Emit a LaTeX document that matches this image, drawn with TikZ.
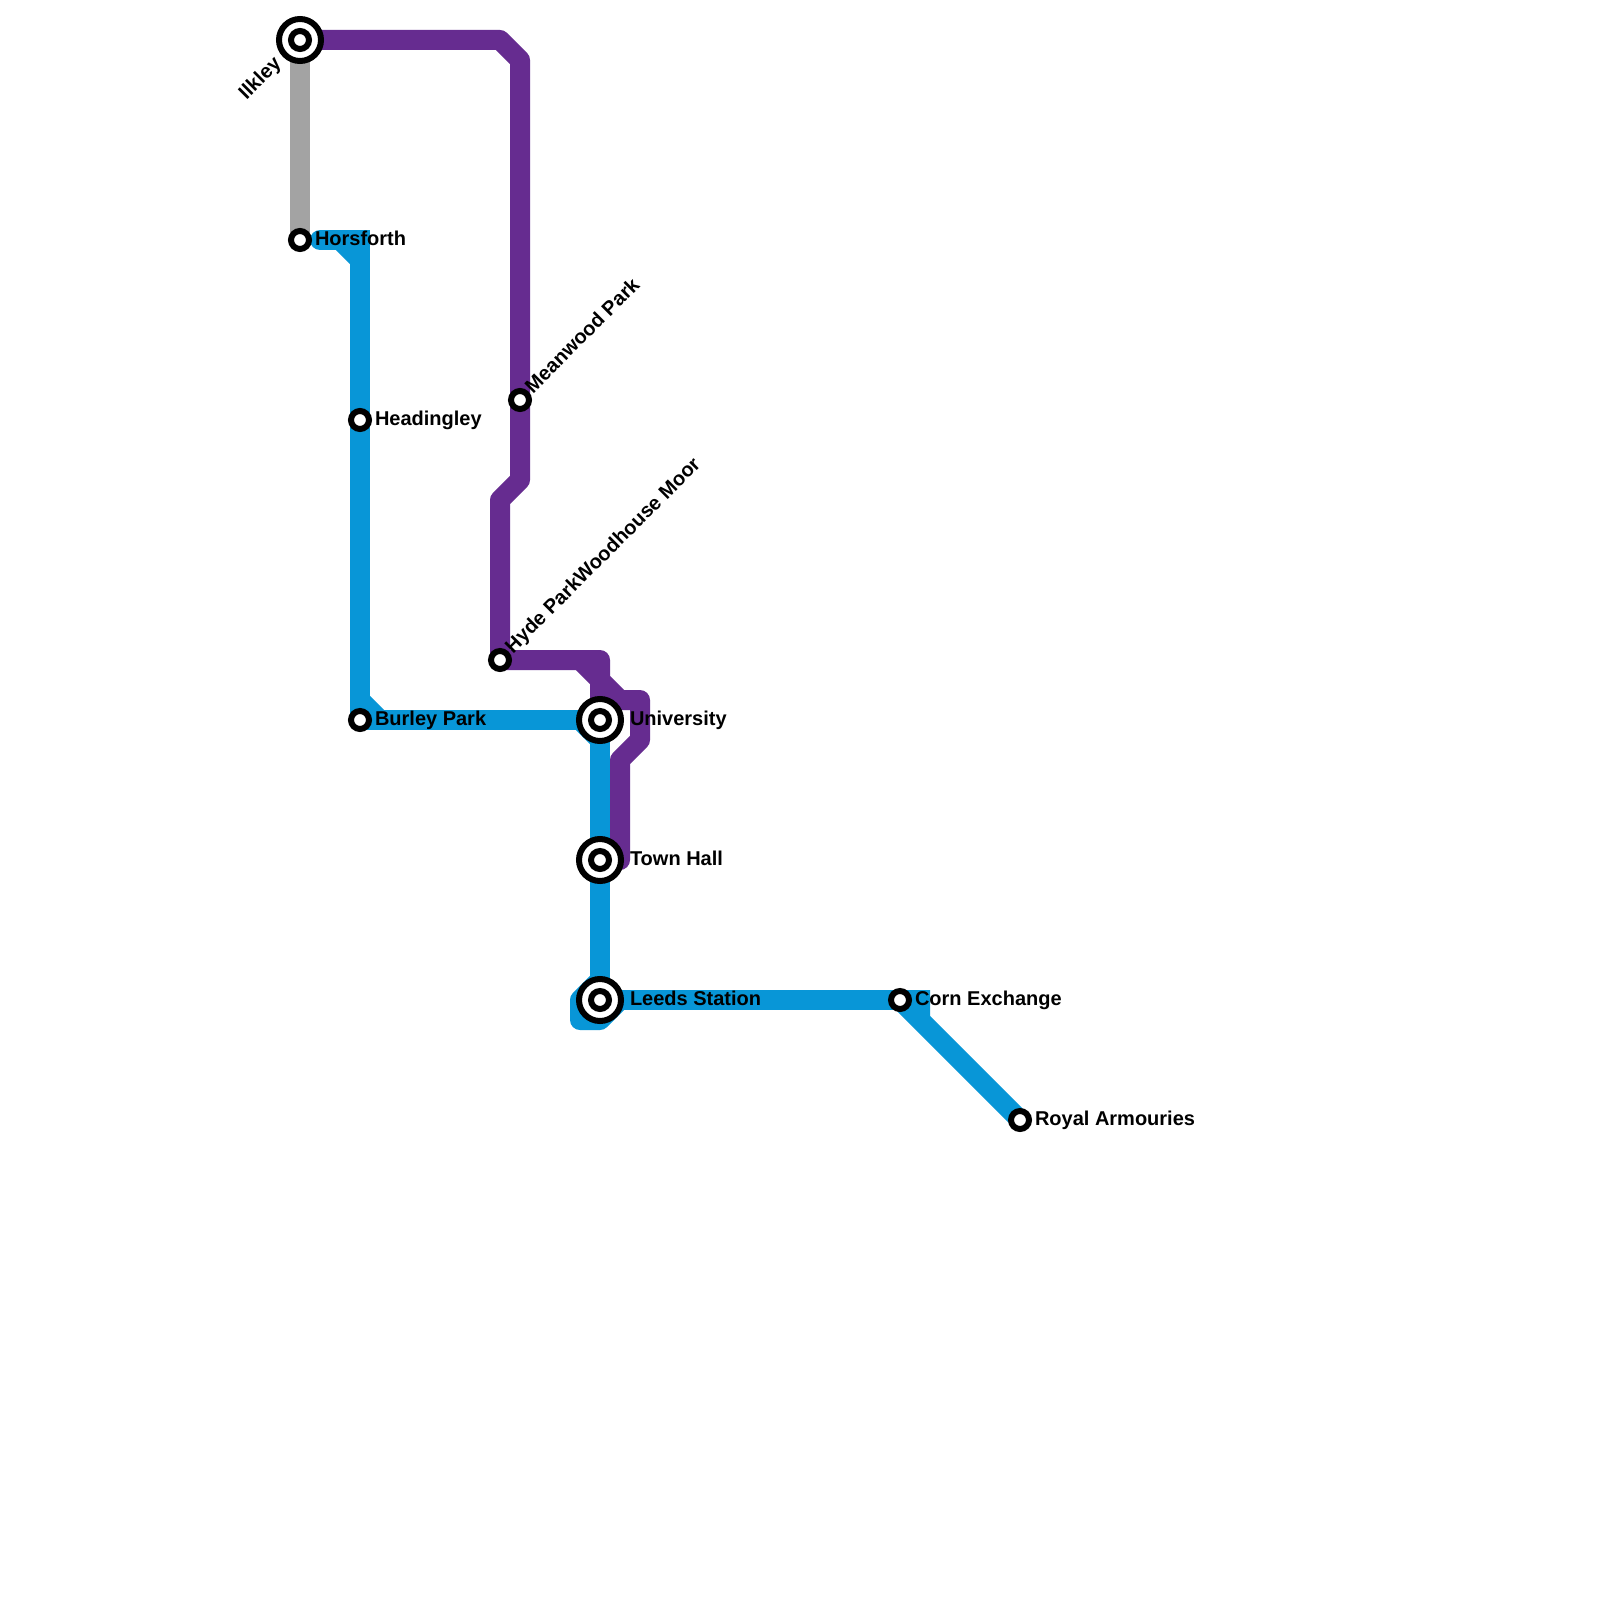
\documentclass[tikz,border=0pt]{standalone}
\usepackage{fontspec}
\setmainfont{Liberation Sans}
\usetikzlibrary{backgrounds}
\definecolor{lineblue}{HTML}{0896D7}
\definecolor{linepurple}{HTML}{662C90}
\definecolor{linegray}{HTML}{A3A3A3}
\tikzset{
  stop/.style={circle,draw=black,fill=white,line width=6pt,minimum size=18pt,inner sep=0pt,outer sep=0pt},
  hubring/.style={circle,draw=black,fill=white,line width=6pt,minimum size=42pt,inner sep=0pt,outer sep=0pt},
  lbl/.style={anchor=base west,inner sep=0pt,outer sep=0pt,text=black,font=\fontsize{20}{24}\selectfont\bfseries},
  lblr/.style={anchor=base east,inner sep=0pt,outer sep=0pt,text=black,font=\fontsize{20}{24}\selectfont\bfseries},
  route/.style={line width=20pt,line join=round,line cap=round},
  stub/.style={line width=20pt,line cap=butt},
  blueroute/.style={route,draw=lineblue},
  purpleroute/.style={route,draw=linepurple}
}
\begin{document}
\begin{tikzpicture}[x=1pt,y=-1pt]
\useasboundingbox (0,0) rectangle (1600,1600);
% stations
\node[hubring] (ilkley) at (300,40) {};
\node[stop] (ilkleyc) at (300,40) {};
\node[stop] (horsforth) at (300,240) {};
\node[stop] (headingley) at (360,420) {};
\node[stop] (burley) at (360,720) {};
\node[stop] (meanwood) at (520,400) {};
\node[stop] (hyde) at (500,660) {};
\node[hubring] (university) at (600,720) {};
\node[stop] (universityc) at (600,720) {};
\node[hubring] (townhall) at (600,860) {};
\node[stop] (townhallc) at (600,860) {};
\node[hubring] (leeds) at (600,1000) {};
\node[stop] (leedsc) at (600,1000) {};
\node[stop] (corn) at (900,1000) {};
\node[stop] (royal) at (1020,1120) {};
% labels
\node[lblr,rotate=45] (lilkley) at (282,65) {Ilkley};
\node[lbl] (lhorsforth) at (315,245) {Horsforth};
\node[lbl] (lheadingley) at (375,425) {Headingley};
\node[lbl] (lburley) at (375,725) {Burley Park};
\node[lbl,rotate=45] (lmeanwood) at (533,394) {Meanwood Park};
\node[lbl,rotate=45] (lhyde) at (513,654) {Hyde ParkWoodhouse Moor};
\node[lbl] (luniversity) at (630,725) {University};
\node[lbl] (ltownhall) at (630,865) {Town Hall};
\node[lbl] (lleeds) at (630,1005) {Leeds Station};
\node[lbl] (lcorn) at (915,1005) {Corn Exchange};
\node[lbl] (lroyal) at (1035,1125) {Royal Armouries};
% bends
\coordinate (h1) at (320,240);
\coordinate (h2) at (360,240);
\coordinate (h3) at (340,240);
\coordinate (h4) at (360,260);
\coordinate (b1) at (360,700);
\coordinate (b2) at (380,720);
\coordinate (u1) at (580,720);
\coordinate (u2) at (600,740);
\coordinate (p1) at (500,40);
\coordinate (p2) at (520,60);
\coordinate (p3) at (520,480);
\coordinate (p4) at (500,500);
\coordinate (p5) at (600,660);
\coordinate (p6) at (600,680);
\coordinate (p7) at (620,700);
\coordinate (p8) at (640,700);
\coordinate (p9) at (640,740);
\coordinate (p10) at (620,760);
\coordinate (p11) at (620,860);
\coordinate (p12) at (580,660);
\coordinate (s1) at (600,980);
\coordinate (s2) at (580,1000);
\coordinate (s3) at (580,1020);
\coordinate (s4) at (600,1020);
\coordinate (s5) at (620,1000);
\coordinate (c1) at (900,990);
\coordinate (c2) at (930,990);
\coordinate (c3) at (930,1016);
\coordinate (c4) at (900,1010);
\begin{scope}[on background layer]
\fill[white] (0,0) rectangle (1600,1600);
\draw[stub,draw=linegray] (ilkley.center) -- (horsforth.center);
% blue
\draw[blueroute,line join=miter] (h1) -- (h2) -- (h4);
\draw[blueroute] (h4) -- (burley.center) -- (university.center);
\draw[stub,draw=lineblue] (h3) -- (h4);
\draw[stub,draw=lineblue] (b1) -- (b2);
\draw[stub,draw=lineblue] (u1) -- (u2);
\draw[stub,draw=lineblue] (university.center) -- (leeds.center) -- (corn.center);
\draw[blueroute,fill=lineblue] (s1) -- (s2) -- (s3) -- (s4) -- (s5) -- (leeds.center) -- cycle;
\fill[lineblue] (c1) -- (c2) -- (c3) -- (c4) -- cycle;
\draw[stub,draw=lineblue] (corn.center) -- (royal.center);
% purple
\draw[purpleroute] (ilkley.center) -- (p1) -- (p2) -- (p3) -- (p4) -- (hyde.center) -- (p5) -- (p6) -- (p7) -- (p8) -- (p9) -- (p10) -- (p11);
\draw[stub,draw=linepurple] (p12) -- (p6);
\draw[stub,draw=linepurple] (p6) -- (university.center);
\end{scope}
\end{tikzpicture}
\end{document}
